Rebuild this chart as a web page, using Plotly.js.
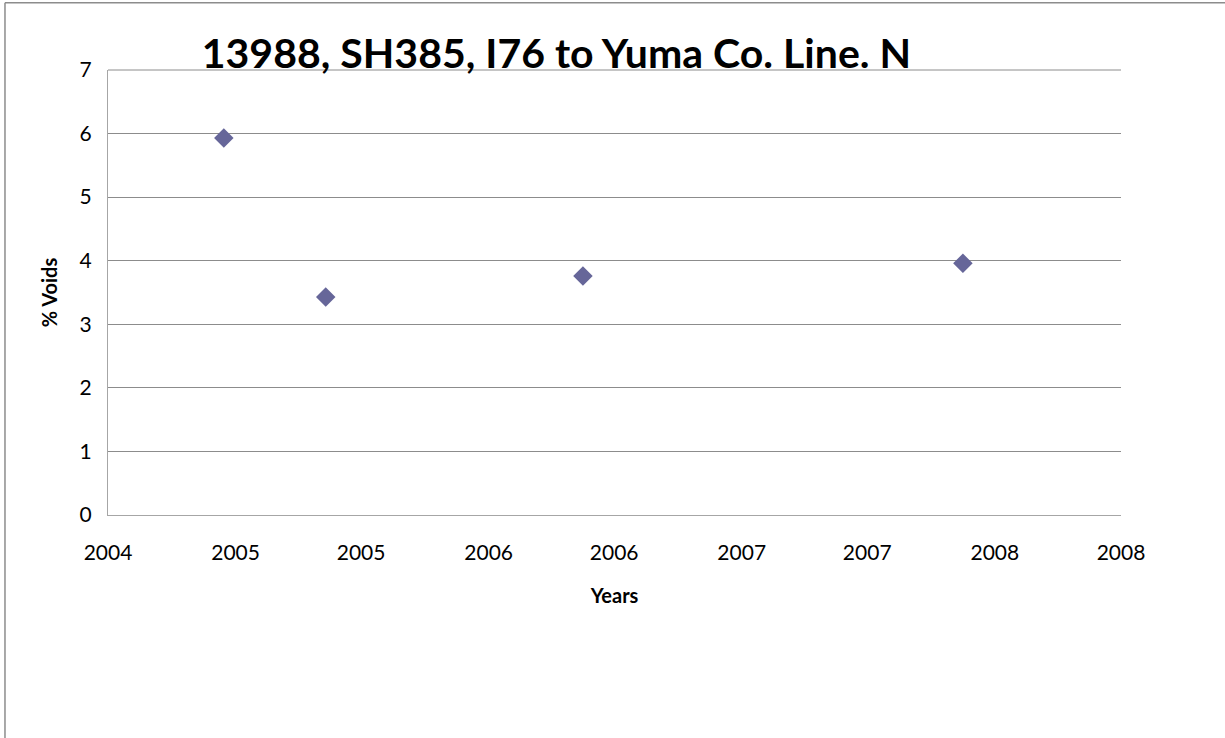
<!DOCTYPE html>
<html>
<head>
<meta charset="utf-8">
<script src="https://cdn.plot.ly/plotly-3.0.1.min.js"></script>
<style>
  html, body { margin: 0; padding: 0; background: #ffffff; }
  #chart { width: 1225px; height: 738px; }
</style>
</head>
<body>
<div id="chart"></div>
<script>
// Sample dates (x) and % voids (y)
const sampleDates = ["2005-01-15", "2005-06-11", "2006-06-17", "2007-12-17"];
const voidsPct = [5.93, 3.43, 3.76, 3.96];

// Date-axis major ticks (Excel style, half-year spacing) and their labels
const tickDates = ["2004-08-01", "2005-02-01", "2005-08-01", "2006-02-01", "2006-08-01",
                   "2007-02-01", "2007-08-01", "2008-02-01", "2008-08-01"];
const tickLabels = ["2004", "2005", "2005", "2006", "2006", "2007", "2007", "2008", "2008"];

const yTicks = [0, 1, 2, 3, 4, 5, 6, 7];

const titleText = "13988, SH385, I76 to Yuma Co. Line. N";
const xTitle = "Years";
const yTitle = "% Voids";

const FONT = "Lato, 'Open Sans', sans-serif";

const trace = {
  x: sampleDates,
  y: voidsPct,
  type: "scatter",
  mode: "markers",
  marker: { symbol: "diamond", size: 15, color: "#666699", line: { width: 0 } },
  hoverinfo: "x+y",
  showlegend: false
};

const layout = {
  width: 1225,
  height: 738,
  margin: { l: 108, r: 104, t: 70, b: 223, pad: 0 },
  paper_bgcolor: "#ffffff",
  plot_bgcolor: "#ffffff",
  font: { family: FONT, color: "#000000", size: 21 },
  title: {
    text: "<b>" + titleText + "</b>",
    font: { family: FONT, size: 41, color: "#000000" },
    x: 0.4427, xref: "paper", xanchor: "center",
    y: 0.927, yref: "container", yanchor: "middle"
  },
  xaxis: {
    type: "date",
    range: [tickDates[0], tickDates[tickDates.length - 1]],
    tickmode: "array",
    tickvals: tickDates,
    ticktext: tickLabels,
    showgrid: false,
    zeroline: false,
    showline: true,
    linecolor: "#a6a6a6",
    linewidth: 1,
    ticks: "",
    ticklabelstandoff: 19,
    tickfont: { family: FONT, size: 21, color: "#000000" },
    title: { text: "<b>" + xTitle + "</b>", font: { family: FONT, size: 20, color: "#000000" }, standoff: 25 },
    fixedrange: true
  },
  yaxis: {
    range: [0, 7],
    tickmode: "array",
    tickvals: yTicks,
    showgrid: true,
    gridcolor: "#8c8c8c",
    gridwidth: 1,
    zeroline: false,
    showline: true,
    linecolor: "#a6a6a6",
    linewidth: 1,
    ticks: "",
    ticklabelstandoff: 11,
    tickfont: { family: FONT, size: 21, color: "#000000" },
    title: { text: "<b>" + yTitle + "</b>", font: { family: FONT, size: 20, color: "#000000" }, standoff: 16 },
    fixedrange: true
  },
  shapes: [
    { type: "line", xref: "paper", yref: "paper", x0: -0.1017, x1: -0.1017, y0: -0.51, y1: 1.151,
      line: { color: "#8c8c8c", width: 1.5 } },
    { type: "line", xref: "paper", yref: "paper", x0: -0.1017, x1: 1.105, y0: 1.151, y1: 1.151,
      line: { color: "#8c8c8c", width: 1.5 } },
    { type: "line", xref: "paper", yref: "paper", x0: 0, x1: 1, y0: 1, y1: 1,
      line: { color: "#8c8c8c", width: 1 }, layer: "below" }
  ]
};

Plotly.newPlot("chart", [trace], layout, { displayModeBar: false, staticPlot: false });
</script>
</body>
</html>
